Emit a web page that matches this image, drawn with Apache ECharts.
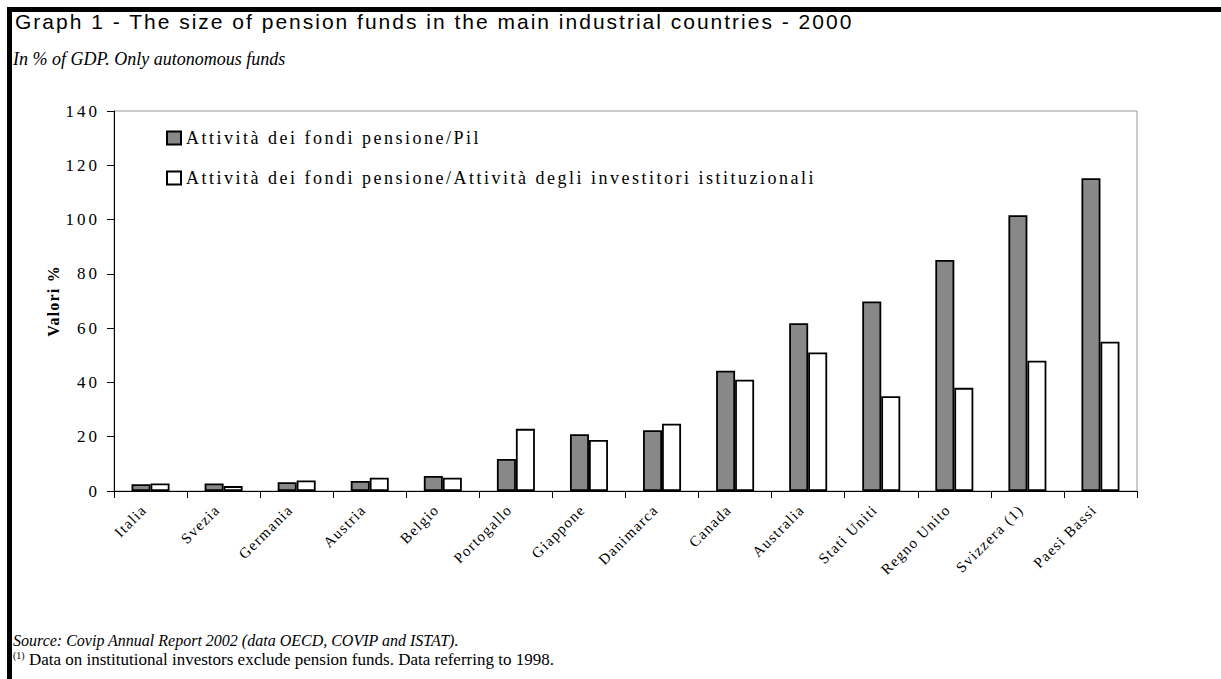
<!DOCTYPE html>
<html><head><meta charset="utf-8">
<script src="https://cdn.jsdelivr.net/npm/echarts@6/dist/echarts.min.js"></script>
<style>html,body{margin:0;padding:0;background:#fff}#c{width:1221px;height:679px}</style>
</head><body><div id="c"></div>
<script>
var categories = ['Italia','Svezia','Germania','Austria','Belgio','Portogallo','Giappone','Danimarca','Canada','Australia','Stati Uniti','Regno Unito','Svizzera (1)','Paesi Bassi'];
var seriesNames = ['Attività dei fondi pensione/Pil','Attività dei fondi pensione/Attività degli investitori istituzionali'];
var fondiPil = [2.5, 2.8, 3.2, 3.7, 5.5, 11.8, 20.9, 22.4, 44.3, 61.8, 69.8, 85.1, 101.6, 115.2];
var fondiInvestitori = [2.8, 1.8, 3.9, 4.9, 4.9, 22.9, 18.8, 24.8, 41, 51, 34.9, 38, 48, 55];
var yTicks = [0, 20, 40, 60, 80, 100, 120, 140];
var titleText = 'Graph 1 - The size of pension funds in the main industrial countries - 2000';
var subtitleText = 'In % of GDP. Only autonomous funds';
var sourceText = 'Source: Covip Annual Report 2002 (data OECD, COVIP and ISTAT).';
var noteMark = '(1)';
var noteText = ' Data on institutional investors exclude pension funds. Data referring to 1998.';
var yAxisName = 'Valori %';

var serif = '"Liberation Serif", "Times New Roman", serif';
var chart = echarts.init(document.getElementById('c'), null, {renderer: 'svg'});
chart.setOption({
  animation: false,
  backgroundColor: '#fff',
  title: [
    {text: titleText, left: 10, top: 6, textStyle: {fontFamily: '"Liberation Sans", Arial, sans-serif', fontSize: 21, fontWeight: 'normal', color: '#000'}},
    {text: subtitleText, left: 8, top: 45, textStyle: {fontFamily: serif, fontSize: 18, fontStyle: 'italic', fontWeight: 'normal', color: '#000'}},
    {text: sourceText, left: 8, top: 627, textStyle: {fontFamily: serif, fontSize: 16, fontStyle: 'italic', fontWeight: 'normal', color: '#000'}},
    {text: '{sup|' + noteMark + '}{n|' + noteText + '}', left: 8, top: 645, textStyle: {fontWeight: 'normal', rich: {
      sup: {fontFamily: serif, fontSize: 10, fontWeight: 'normal', color: '#000', verticalAlign: 'top', lineHeight: 18},
      n: {fontFamily: serif, fontSize: 17, fontWeight: 'normal', color: '#000', lineHeight: 18}
    }}}
  ],
  graphic: [
    {type: 'rect', left: 7, top: 7, shape: {width: 1214, height: 5}, style: {fill: '#000'}},
    {type: 'rect', left: 7, top: 7, shape: {width: 5, height: 672}, style: {fill: '#000'}}
  ],
  legend: {
    orient: 'vertical', left: 161, top: 124, itemWidth: 14, itemHeight: 13, itemGap: 22,
    icon: 'rect',
    textStyle: {fontFamily: serif, fontSize: 18, color: '#000'},
    data: seriesNames
  },
  grid: {left: 114, top: 111, right: 84, bottom: 188, show: true, borderColor: '#999', borderWidth: 1},
  xAxis: {
    type: 'category', data: categories,
    axisLine: {lineStyle: {color: '#000', width: 1}},
    axisTick: {show: true, length: 7, lineStyle: {color: '#000'}},
    axisLabel: {rotate: 45, interval: 0, margin: 10, padding: [0, 9, 0, 0], fontFamily: serif, fontSize: 15, color: '#000'}
  },
  yAxis: {
    type: 'value', min: yTicks[0], max: yTicks[yTicks.length - 1], interval: yTicks[1] - yTicks[0],
    name: yAxisName, nameLocation: 'middle', nameGap: 53, nameRotate: 90,
    nameTextStyle: {fontFamily: serif, fontSize: 16, fontWeight: 'bold', color: '#000'},
    axisLine: {show: true, lineStyle: {color: '#000', width: 1}},
    axisTick: {show: true, length: 7, lineStyle: {color: '#000'}},
    splitLine: {show: false},
    axisLabel: {margin: 14, fontFamily: serif, fontSize: 17, color: '#000'}
  },
  series: [
    {name: seriesNames[0], type: 'bar', data: fondiPil, barWidth: 19, barGap: '0%',
     itemStyle: {color: '#888888', borderColor: '#000', borderWidth: 1.8}},
    {name: seriesNames[1], type: 'bar', data: fondiInvestitori, barWidth: 19, barGap: '0%',
     itemStyle: {color: '#fff', borderColor: '#000', borderWidth: 1.8}}
  ]
});

// widen text to match the stretched look of the original
function applySpacing() {
  var tickSet = yTicks.map(String);
  var nodes = document.querySelectorAll('#c text');
  for (var i = 0; i < nodes.length; i++) {
    var t = nodes[i].textContent;
    var ls = null;
    if (t === titleText) ls = '2px';
    else if (seriesNames.indexOf(t) >= 0) ls = '2.5px';
    else if (categories.indexOf(t) >= 0) ls = '1.3px';
    else if (tickSet.indexOf(t) >= 0) ls = '3px';
    else if (t === yAxisName) ls = '1.2px';
    if (ls) nodes[i].style.letterSpacing = ls;
  }
}
applySpacing();
chart.on('finished', applySpacing);
setTimeout(applySpacing, 0);
</script></body></html>
